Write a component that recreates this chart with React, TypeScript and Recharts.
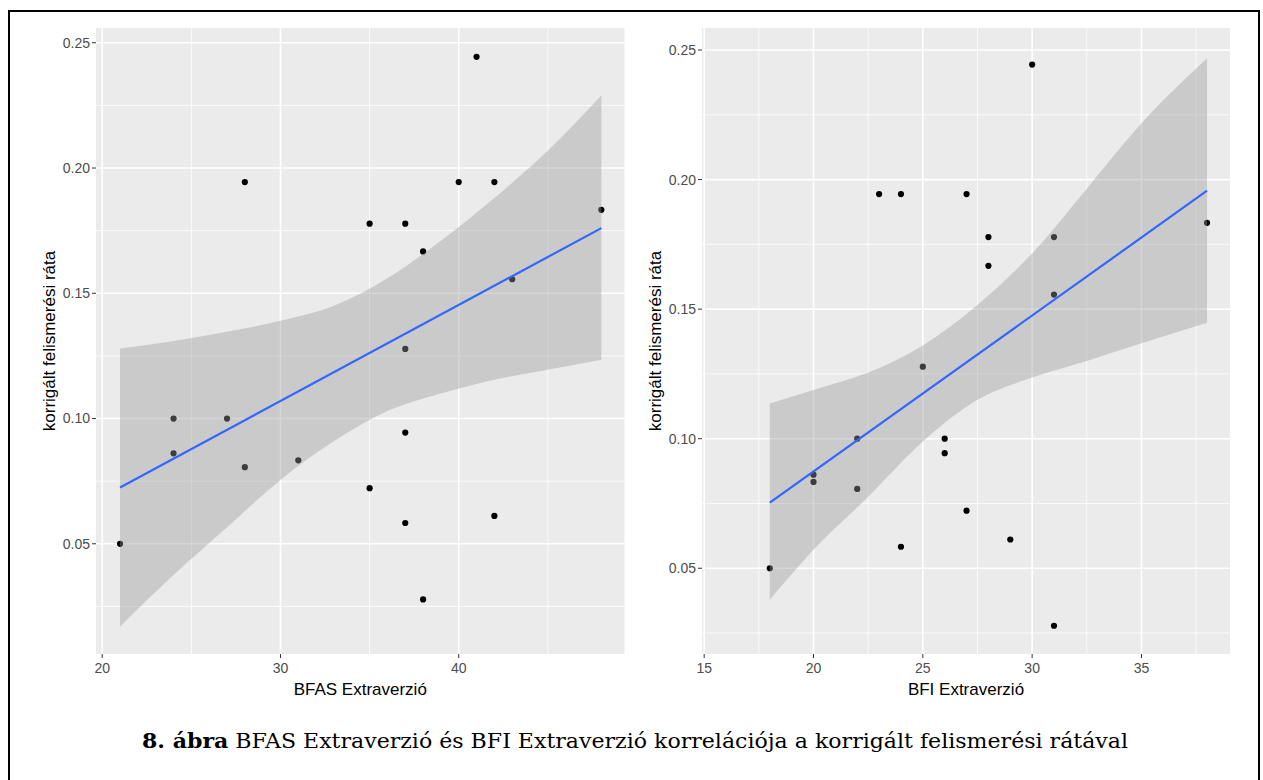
import React from 'react';
import { ComposedChart, Scatter, Area, Line, XAxis, YAxis, CartesianGrid } from 'recharts';

// BFAS panel: observed points
const bfasX = [28, 35, 37, 38, 40, 41, 42, 48, 43, 37, 24, 27, 24, 28, 31, 37, 35, 37, 42, 21, 38];
const bfasRate = [0.1944, 0.1778, 0.1778, 0.1667, 0.1944, 0.2444, 0.1944, 0.1833, 0.1556, 0.1278, 0.1, 0.1, 0.0861, 0.0806, 0.0833, 0.0944, 0.0722, 0.0583, 0.0611, 0.05, 0.0278];
// BFAS panel: lm fit and 95% band
const bfasFitX = [21, 48];
const bfasFitY = [0.0725, 0.176];
const bfasBandX = [21, 24, 27, 30, 33, 36, 39, 42, 45, 48];
const bfasBandLo = [0.017, 0.0375, 0.0566, 0.0755, 0.091, 0.103, 0.11, 0.1155, 0.1195, 0.1235];
const bfasBandHi = [0.128, 0.131, 0.1346, 0.139, 0.145, 0.156, 0.171, 0.188, 0.207, 0.229];

// BFI panel: observed points
const bfiX = [30, 23, 24, 27, 28, 28, 31, 31, 38, 25, 22, 20, 20, 22, 26, 26, 27, 24, 29, 18, 31];
const bfiRate = [0.2444, 0.1944, 0.1944, 0.1944, 0.1778, 0.1667, 0.1778, 0.1556, 0.1833, 0.1278, 0.1, 0.0861, 0.0833, 0.0806, 0.1, 0.0944, 0.0722, 0.0583, 0.0611, 0.05, 0.0278];
const bfiFitX = [18, 38];
const bfiFitY = [0.0753, 0.1957];
const bfiBandX = [18, 20, 22.5, 25, 27.5, 30, 32.5, 35, 38];
const bfiBandLo = [0.0378, 0.0571, 0.0776, 0.0989, 0.115, 0.1236, 0.13, 0.1368, 0.1447];
const bfiBandHi = [0.1136, 0.1188, 0.1255, 0.136, 0.1516, 0.1715, 0.1965, 0.2217, 0.2468];

const rateTicks = [0.05, 0.1, 0.15, 0.2, 0.25];
const rateMinor = [0.025, 0.075, 0.125, 0.175, 0.225];
const bfasTicks = [20, 30, 40];
const bfasMinor = [25, 35, 45];
const bfiTicks = [15, 20, 25, 30, 35];
const bfiMinor = [17.5, 22.5, 27.5, 32.5, 37.5];

const SANS = '"Liberation Sans", Arial, sans-serif';
const PANEL_BG = '#EBEBEB';
const W = 640;
const H = 710;
const TOP = 28;
const X_AXIS_H = 56;
const Y_AXIS_W = 60;

interface PanelProps {
  left: number;
  xs: number[];
  ys: number[];
  fitX: number[];
  fitY: number[];
  bandX: number[];
  bandLo: number[];
  bandHi: number[];
  xDomain: [number, number];
  yDomain: [number, number];
  xTicks: number[];
  xMinor: number[];
  xTitle: string;
  marginLeft: number;
  marginRight: number;
}

function Panel(p: PanelProps) {
  const points = p.xs.map((x, i) => ({ x, y: p.ys[i] }));
  const band = p.bandX.map((x, i) => ({ x, band: [p.bandLo[i], p.bandHi[i]] }));
  const fit = p.fitX.map((x, i) => ({ x, fit: p.fitY[i] }));
  const tickStyle = { fill: '#4D4D4D', fontSize: 14, fontFamily: SANS };

  return (
    <div style={{ position: 'absolute', left: p.left, top: 0, width: W, height: H }}>
      {/* base layer: panel, grid, axes and points */}
      <div style={{ position: 'absolute', left: 0, top: 0 }}>
        <ComposedChart
          width={W}
          height={H}
          margin={{ top: TOP, right: p.marginRight, bottom: 0, left: p.marginLeft }}
        >
          <CartesianGrid
            fill={PANEL_BG}
            fillOpacity={1}
            stroke="#FFFFFF"
            strokeWidth={0.8}
            horizontalValues={rateMinor}
            verticalValues={p.xMinor}
          />
          <CartesianGrid
            stroke="#FFFFFF"
            strokeWidth={1.6}
            horizontalValues={rateTicks}
            verticalValues={p.xTicks}
          />
          <XAxis
            type="number"
            dataKey="x"
            domain={p.xDomain}
            ticks={p.xTicks}
            allowDataOverflow
            height={X_AXIS_H}
            axisLine={false}
            tickSize={4}
            tickMargin={5}
            tickLine={{ stroke: '#333333' }}
            tick={tickStyle}
            label={(lp: any) => {
              const vb = lp.viewBox || { x: 0, y: 0, width: 0 };
              return (
                <text x={vb.x + vb.width / 2} y={vb.y + 41} textAnchor="middle"
                  fontFamily={SANS} fontSize={17} fill="#000">{p.xTitle}</text>
              );
            }}
          />
          <YAxis
            type="number"
            domain={p.yDomain}
            ticks={rateTicks}
            allowDataOverflow
            width={Y_AXIS_W}
            axisLine={false}
            tickSize={4}
            tickMargin={2}
            tickLine={{ stroke: '#333333' }}
            tick={tickStyle}
            tickFormatter={(v: number) => v.toFixed(2)}
            label={(lp: any) => {
              const vb = lp.viewBox || { x: 0, y: 0, width: 0, height: 0 };
              const tx = vb.x + vb.width - 41.5;
              const ty = vb.y + vb.height / 2;
              return (
                <text x={tx} y={ty} textAnchor="middle" transform={`rotate(-90, ${tx}, ${ty})`}
                  fontFamily={SANS} fontSize={17} fill="#000">korrigált felismerési ráta</text>
              );
            }}
          />
          <Scatter
            data={points}
            dataKey="y"
            isAnimationActive={false}
            shape={(sp: any) => <circle cx={sp.cx} cy={sp.cy} r={3.1} fill="#000" />}
          />
        </ComposedChart>
      </div>
      {/* top layer: confidence band and fitted line, drawn over the points as in ggplot */}
      <div style={{ position: 'absolute', left: 0, top: 0 }}>
        <ComposedChart
          width={W}
          height={H}
          margin={{ top: TOP, right: p.marginRight, bottom: X_AXIS_H, left: p.marginLeft + Y_AXIS_W }}
        >
          <XAxis type="number" dataKey="x" domain={p.xDomain} allowDataOverflow hide />
          <YAxis type="number" domain={p.yDomain} allowDataOverflow hide />
          <Area
            data={band}
            dataKey="band"
            type="monotone"
            stroke="none"
            fill="#999999"
            fillOpacity={0.4}
            isAnimationActive={false}
          />
          <Line
            data={fit}
            dataKey="fit"
            type="linear"
            stroke="#3366FF"
            strokeWidth={2.2}
            dot={false}
            activeDot={false}
            isAnimationActive={false}
          />
        </ComposedChart>
      </div>
    </div>
  );
}

export default function App() {
  return (
    <div style={{ position: 'absolute', left: 0, top: 0, width: 1263, height: 780, overflow: 'hidden', background: '#fff' }}>
      <div style={{ position: 'absolute', left: 8, top: 10, width: 1252, height: 800, border: '2px solid #000', boxSizing: 'border-box' }} />
      <Panel
        left={0}
        xs={bfasX}
        ys={bfasRate}
        fitX={bfasFitX}
        fitY={bfasFitY}
        bandX={bfasBandX}
        bandLo={bfasBandLo}
        bandHi={bfasBandHi}
        xDomain={[19.65, 49.3]}
        yDomain={[0.006, 0.2559]}
        xTicks={bfasTicks}
        xMinor={bfasMinor}
        xTitle="BFAS Extraverzió"
        marginLeft={36}
        marginRight={15.5}
      />
      <Panel
        left={620}
        xs={bfiX}
        ys={bfiRate}
        fitX={bfiFitX}
        fitY={bfiFitY}
        bandX={bfiBandX}
        bandLo={bfiBandLo}
        bandHi={bfiBandHi}
        xDomain={[14.9, 39.05]}
        yDomain={[0.0169, 0.2585]}
        xTicks={bfiTicks}
        xMinor={bfiMinor}
        xTitle="BFI Extraverzió"
        marginLeft={22}
        marginRight={30}
      />
      <svg style={{ position: 'absolute', left: 0, top: 700 }} width={1263} height={70}>
        <text x={635} y={48} textAnchor="middle" textLength={986} lengthAdjust="spacingAndGlyphs"
          fontFamily='"DejaVu Serif", serif' fontSize={20} fill="#000">
          <tspan fontWeight="bold">8. ábra</tspan> BFAS Extraverzió és BFI Extraverzió korrelációja a korrigált felismerési rátával
        </text>
      </svg>
    </div>
  );
}
